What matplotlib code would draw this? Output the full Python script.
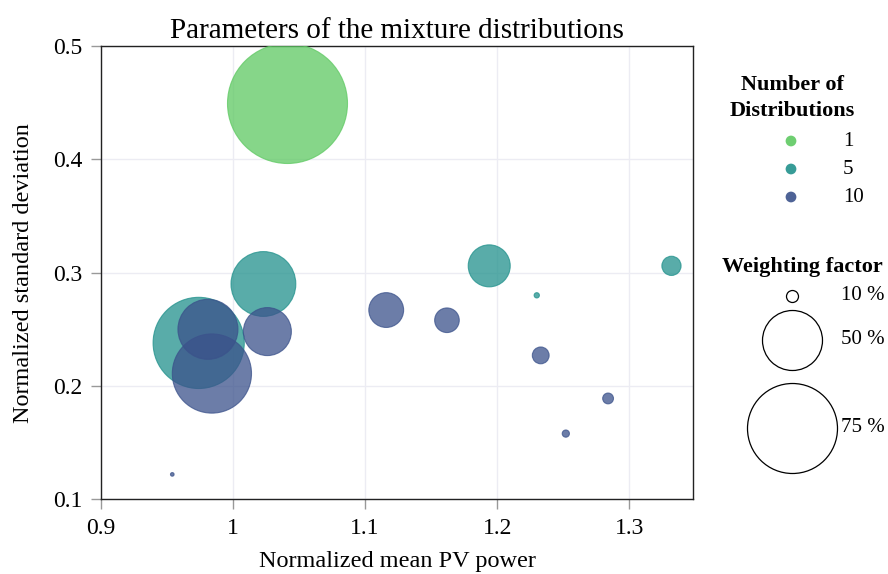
import matplotlib
matplotlib.use("Agg")
import matplotlib.pyplot as plt

plt.rcParams['font.family'] = ['Liberation Serif', 'DejaVu Serif']

# number of distributions -> colour
groups = ["1", "5", "10"]
colors = ["#5ec962", "#21918c", "#3b528b"]

# mixture components: mean, std, weighting factor (%)
mean_1 = [1.041]
std_1 = [0.450]
w_1 = [100]

mean_5 = [0.974, 1.023, 1.194, 1.332, 1.230]
std_5 = [0.238, 0.290, 0.306, 0.306, 0.280]
w_5 = [76, 54, 35, 16, 4.4]

mean_10 = [0.984, 0.981, 1.026, 0.954, 1.116, 1.162, 1.233, 1.284, 1.252]
std_10 = [0.211, 0.250, 0.248, 0.122, 0.267, 0.258, 0.227, 0.189, 0.158]
w_10 = [66, 50, 40, 3, 29, 20.5, 14, 9, 6]

legend_weights = [10, 50, 75]


def msize(w):
    # diameter in pixels grows linearly with the weight, 1.2 px per %
    d = 1.2 * w * 0.72
    return d * d


fig = plt.figure(figsize=(8.88, 5.74), dpi=100)
ax = fig.add_axes([0.1137, 0.1301, 0.6670, 0.7898])

for xs, ys, ws, c in [(mean_1, std_1, w_1, colors[0]),
                      (mean_5, std_5, w_5, colors[1]),
                      (mean_10, std_10, w_10, colors[2])]:
    ax.scatter(xs, ys, s=[msize(w) for w in ws], color=c, alpha=0.75,
               edgecolors=c, linewidths=0.8, zorder=3)

ax.set_xlim(0.9, 1.3485)
ax.set_ylim(0.1, 0.5)
ax.set_xticks([0.9, 1.0, 1.1, 1.2, 1.3])
ax.set_xticklabels(["0.9", "1", "1.1", "1.2", "1.3"])
ax.set_yticks([0.1, 0.2, 0.3, 0.4, 0.5])
ax.grid(True, color="#ececf3", linewidth=1.0, zorder=0)
ax.tick_params(labelsize=17, length=7.2, width=1.0, pad=6, color="#999999")
for sp in ax.spines.values():
    sp.set_color("#222222")
    sp.set_linewidth(1.0)
ax.set_title("Parameters of the mixture distributions", fontsize=21, pad=6)
ax.set_xlabel("Normalized mean PV power", fontsize=17.5, labelpad=9)
ax.set_ylabel("Normalized standard deviation", fontsize=17.5, labelpad=14)

# legends drawn in pixel coordinates of the figure
lax = fig.add_axes([0, 0, 1, 1])
lax.set_xlim(0, 888)
lax.set_ylim(574, 0)
lax.axis("off")

lax.text(792, 98, "Number of\nDistributions", fontsize=16, fontweight="bold",
         ha="center", va="center", linespacing=1.35)
for i, g in enumerate(groups):
    y = 141 + 28 * i
    lax.scatter([791], [y], s=60, color=colors[i], alpha=0.9, edgecolors="none")
    lax.text(843, y, g, fontsize=15, va="center", ha="left")

lax.text(802, 267, "Weighting factor", fontsize=16, fontweight="bold",
         ha="center", va="center")
for w, y in zip(legend_weights, [296, 340, 428]):
    lax.scatter([792], [y], s=msize(w), facecolors="white",
                edgecolors="black", linewidths=0.9)
    lax.text(841, y, f"{w} %", fontsize=15, va="center", ha="left")

fig.savefig("out.png", dpi=100)
